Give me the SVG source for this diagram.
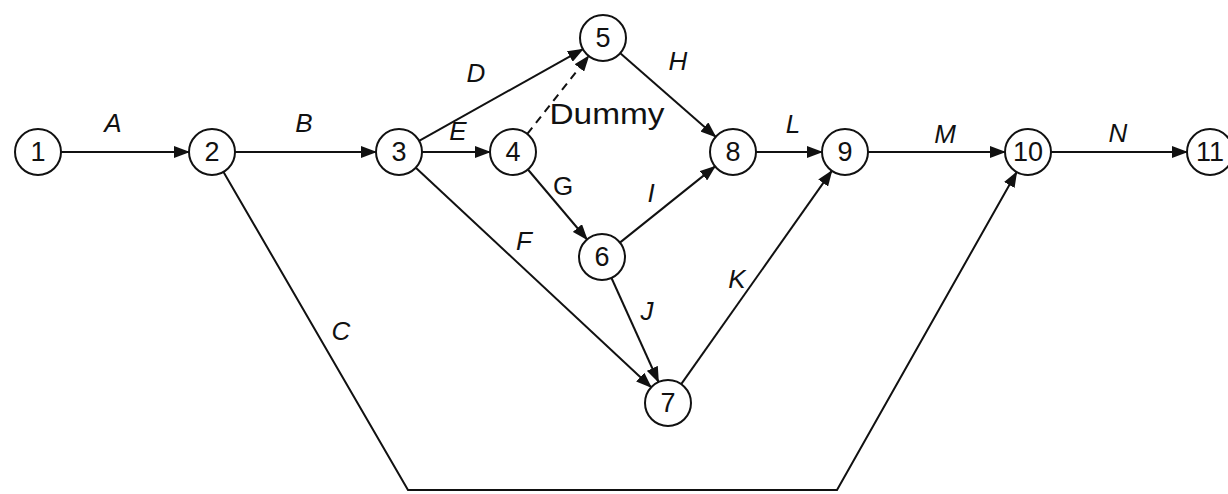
<svg xmlns="http://www.w3.org/2000/svg" width="1228" height="494" viewBox="0 0 1228 494">
<style>
.node circle{fill:#fff;stroke:#111;stroke-width:2}
.node text{font-family:"Liberation Sans",Arial,sans-serif;font-size:27px;fill:#111;text-anchor:middle}
.edge{fill:none;stroke:#111;stroke-width:2}
.arr{marker-end:url(#ah)}
.dash{stroke-dasharray:8,6}
.lbl{font-family:"Liberation Sans",Arial,sans-serif;font-size:26px;font-style:italic;fill:#111;text-anchor:middle}
.up{font-style:normal}
.big{font-size:29px}
</style>
<defs>
<marker id="ah" markerUnits="userSpaceOnUse" markerWidth="16" markerHeight="12" refX="15" refY="6" orient="auto">
<path d="M0,0 L16,6 L0,12 z" fill="#111"/>
</marker>
</defs>
<rect width="1228" height="494" fill="#fff"/>
<g id="connectors">
<line class="edge arr" x1="61" y1="152" x2="189" y2="152"/>
<line class="edge arr" x1="235" y1="152" x2="376" y2="152"/>
<polyline class="edge arr" points="223.5,171.9 408,490 837,490 1016.7,172"/>
<line class="edge arr" x1="419.1" y1="140.8" x2="582.9" y2="49.2"/>
<line class="edge arr" x1="422" y1="152" x2="490" y2="152"/>
<line class="edge arr dash" x1="527.3" y1="133.9" x2="588.7" y2="56.1"/>
<line class="edge arr" x1="415.8" y1="167.7" x2="651.2" y2="387.3"/>
<line class="edge arr" x1="527.9" y1="169.5" x2="587.1" y2="239.5"/>
<line class="edge arr" x1="620.3" y1="53.2" x2="715.7" y2="136.8"/>
<line class="edge arr" x1="619.9" y1="242.6" x2="715.1" y2="166.4"/>
<line class="edge arr" x1="611.5" y1="278" x2="658.5" y2="382"/>
<line class="edge arr" x1="681.2" y1="384.2" x2="831.8" y2="170.8"/>
<line class="edge arr" x1="756" y1="152" x2="822" y2="152"/>
<line class="edge arr" x1="868" y1="152" x2="1005" y2="152"/>
<line class="edge arr" x1="1051" y1="152" x2="1187" y2="152"/>
<text class="lbl" x="113" y="132">A</text>
<text class="lbl" x="304" y="132">B</text>
<text class="lbl" x="341" y="340">C</text>
<text class="lbl" x="476" y="82">D</text>
<text class="lbl" x="458" y="140">E</text>
<text class="lbl up big" x="607" y="124" textLength="115" lengthAdjust="spacingAndGlyphs">Dummy</text>
<text class="lbl" x="524" y="250">F</text>
<text class="lbl up" x="563" y="195">G</text>
<text class="lbl" x="678" y="70">H</text>
<text class="lbl" x="651" y="202">I</text>
<text class="lbl" x="647" y="320">J</text>
<text class="lbl" x="737" y="288">K</text>
<text class="lbl" x="793" y="133">L</text>
<text class="lbl" x="945" y="143">M</text>
<text class="lbl" x="1118" y="142">N</text>
</g>
<g id="n1" class="node"><circle cx="38" cy="152" r="23"/><text x="38" y="161">1</text></g>
<g id="n2" class="node"><circle cx="212" cy="152" r="23"/><text x="212" y="161">2</text></g>
<g id="n3" class="node"><circle cx="399" cy="152" r="23"/><text x="399" y="161">3</text></g>
<g id="n4" class="node"><circle cx="513" cy="152" r="23"/><text x="513" y="161">4</text></g>
<g id="n5" class="node"><circle cx="603" cy="38" r="23"/><text x="603" y="47">5</text></g>
<g id="n6" class="node"><circle cx="602" cy="257" r="23"/><text x="602" y="266">6</text></g>
<g id="n7" class="node"><circle cx="668" cy="403" r="23"/><text x="668" y="412">7</text></g>
<g id="n8" class="node"><circle cx="733" cy="152" r="23"/><text x="733" y="161">8</text></g>
<g id="n9" class="node"><circle cx="845" cy="152" r="23"/><text x="845" y="161">9</text></g>
<g id="n10" class="node"><circle cx="1028" cy="152" r="23"/><text x="1028" y="161">10</text></g>
<g id="n11" class="node"><circle cx="1210" cy="152" r="23"/><text x="1210" y="161">11</text></g>
</svg>
